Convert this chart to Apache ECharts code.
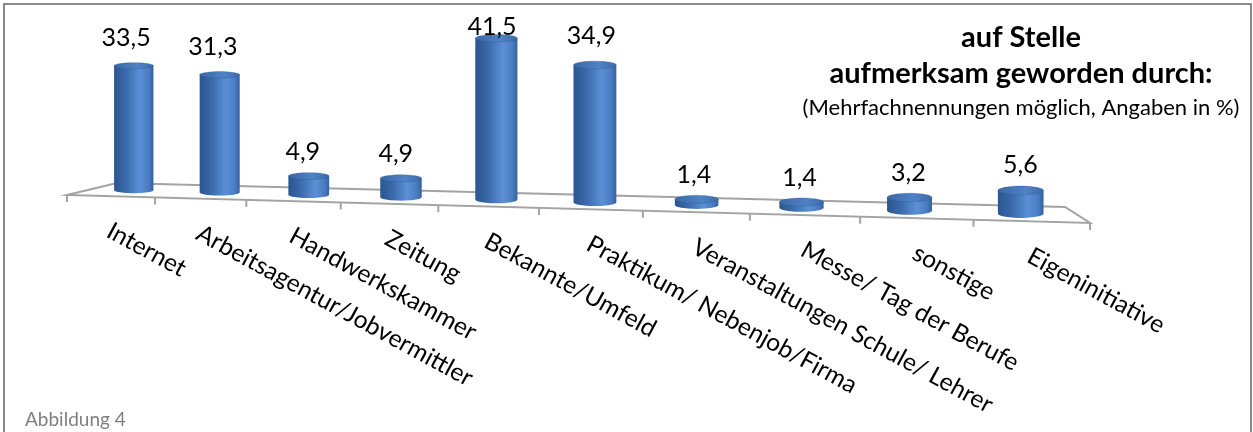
<!DOCTYPE html>
<html>
<head>
<meta charset="utf-8">
<script src="https://cdn.jsdelivr.net/npm/echarts@6/dist/echarts.min.js"></script>
<style>
  html, body { margin: 0; padding: 0; background: #ffffff; }
  #chart { width: 1253px; height: 432px; }
</style>
</head>
<body>
<div id="chart"></div>
<script>
// Survey categories and their shares (in %)
const categories = [
  'Internet',
  'Arbeitsagentur/Jobvermittler',
  'Handwerkskammer',
  'Zeitung',
  'Bekannte/Umfeld',
  'Praktikum/ Nebenjob/Firma',
  'Veranstaltungen Schule/ Lehrer',
  'Messe/ Tag der Berufe',
  'sonstige',
  'Eigeninitiative'
];
const shares = [33.5, 31.3, 4.9, 4.9, 41.5, 34.9, 1.4, 1.4, 3.2, 5.6];

const titleLines = ['auf Stelle', 'aufmerksam geworden durch:'];
const subtitle = '(Mehrfachnennungen möglich, Angaben in %)';
const figureCaption = 'Abbildung 4';

const FONT = 'Lato, "Open Sans", sans-serif';

// Perspective floor: t runs 0..1 along the category axis, d 0..1 into depth
function frontEdge(t) {
  const x = 67 + 865 * t + 158 * t * t;
  return [x, 195 + 28 * (x - 67) / 1023];
}
function floorPoint(t, d) {
  const f = frontEdge(t);
  return [f[0] + d * (50 - 75 * t), f[1] + d * (-12 - 4 * t)];
}
function halfEllipse(cx, cy, rx, ry, n) {
  // lower half, left to right
  const pts = [];
  for (let k = 0; k <= n; k++) {
    const a = Math.PI - k * Math.PI / n;
    pts.push([cx + rx * Math.cos(a), cy + ry * Math.sin(a)]);
  }
  return pts;
}
function fullEllipse(cx, cy, rx, ry, n) {
  const pts = [];
  for (let k = 0; k < n; k++) {
    const a = k * 2 * Math.PI / n;
    pts.push([cx + rx * Math.cos(a), cy + ry * Math.sin(a)]);
  }
  return pts;
}
function fmt(v) { return v.toFixed(1).replace('.', ','); }

const floorColor = '#a3a3a3';

function renderFloor(params, api) {
  const children = [];
  const lineStyle = { stroke: floorColor, lineWidth: 2, fill: null };
  const fl = floorPoint(0, 0), fr = floorPoint(1, 0);
  const bl = floorPoint(0, 1), br = floorPoint(1, 1);
  children.push({ type: 'polyline', shape: { points: [bl, br, fr, fl, bl] }, style: lineStyle });
  for (let i = 0; i <= categories.length; i++) {
    const p = frontEdge(i / categories.length);
    children.push({ type: 'line', shape: { x1: p[0], y1: p[1], x2: p[0], y2: p[1] + 7 }, style: lineStyle });
  }
  return { type: 'group', children };
}

function renderCylinder(params, api) {
  const cs = params.coordSys;
  const i = api.value(0);
  const v = api.value(1);
  const base = api.coord([i, 0]);
  const top = api.coord([i, v]);
  const t = (base[0] - cs.x) / cs.width;
  const grow = 1 + 0.12 * t;
  const h = (base[1] - top[1]) * grow;
  const b = floorPoint(t, 0.5);
  const cx = b[0], by = b[1];
  const rx = (39 + 7 * t) / 2;
  const ry = 3 + 1.5 * t;
  const ty = by - h;

  const bodyPts = [[cx - rx, ty]].concat(halfEllipse(cx, by, rx, ry, 24)).concat([[cx + rx, ty]]);
  const bodyFill = new echarts.graphic.LinearGradient(0, 0, 1, 0, [
    { offset: 0, color: '#2a5590' },
    { offset: 0.3, color: '#3a6aab' },
    { offset: 0.66, color: '#5b90d6' },
    { offset: 0.88, color: '#4a7cc1' },
    { offset: 1, color: '#33629f' }
  ]);
  const topFill = new echarts.graphic.LinearGradient(0, 0, 1, 0, [
    { offset: 0, color: '#3a67a4' },
    { offset: 0.6, color: '#4f82c6' },
    { offset: 1, color: '#3c6aa8' }
  ]);

  const labelY = Math.max(ty - ry - 20 - 0.04 * h, 27);
  const labelX = cx - 8 * (1 - t);
  const f = frontEdge(t);

  return {
    type: 'group',
    children: [
      { type: 'polygon', shape: { points: bodyPts }, style: { fill: bodyFill } },
      { type: 'polygon', shape: { points: fullEllipse(cx, ty, rx, ry, 40) }, style: { fill: topFill, stroke: 'rgba(40,80,140,0.5)', lineWidth: 0.6 } },
      { type: 'text', x: labelX, y: labelY,
        style: { text: fmt(v), align: 'center', verticalAlign: 'middle', fill: '#000', font: '25px ' + FONT } },
      { type: 'text', x: f[0] + 4, y: f[1] + 22, rotation: -28.5 * Math.PI / 180,
        style: { text: categories[i], align: 'left', verticalAlign: 'top', fill: '#000', font: '24.5px ' + FONT } }
    ]
  };
}

const chart = echarts.init(document.getElementById('chart'), null, { renderer: 'canvas' });
chart.setOption({
  animation: false,
  backgroundColor: '#ffffff',
  grid: { left: 60, width: 1000, top: 40, height: 166 },
  xAxis: { type: 'category', data: categories, show: false, boundaryGap: true },
  yAxis: { type: 'value', min: 0, max: 45, show: false },
  title: [
    { text: titleLines.join('\n'), left: 1021, top: 20, textAlign: 'center', padding: 0,
      textStyle: { fontFamily: FONT, fontSize: 29, fontWeight: 'bold', lineHeight: 36, color: '#000' } },
    { text: subtitle, left: 1021, top: 96, textAlign: 'center', padding: 0,
      textStyle: { fontFamily: FONT, fontSize: 22, fontWeight: 'normal', lineHeight: 24, color: '#000' } },
    { text: figureCaption, left: 25, top: 410, padding: 0,
      textStyle: { fontFamily: FONT, fontSize: 19, fontWeight: 'normal', lineHeight: 20, color: '#7f7f7f' } }
  ],
  graphic: [
    { type: 'rect', shape: { x: 4, y: 4, width: 1247, height: 440 }, style: { fill: null, stroke: '#8a8a8a', lineWidth: 2 }, z: 10 }
  ],
  series: [
    { type: 'custom', renderItem: renderFloor, data: [0], z: 1, silent: true },
    { type: 'custom', renderItem: renderCylinder, data: shares.map((v, i) => [i, v]), z: 2, silent: true,
      encode: { x: 0, y: 1 } }
  ]
});
</script>
</body>
</html>
